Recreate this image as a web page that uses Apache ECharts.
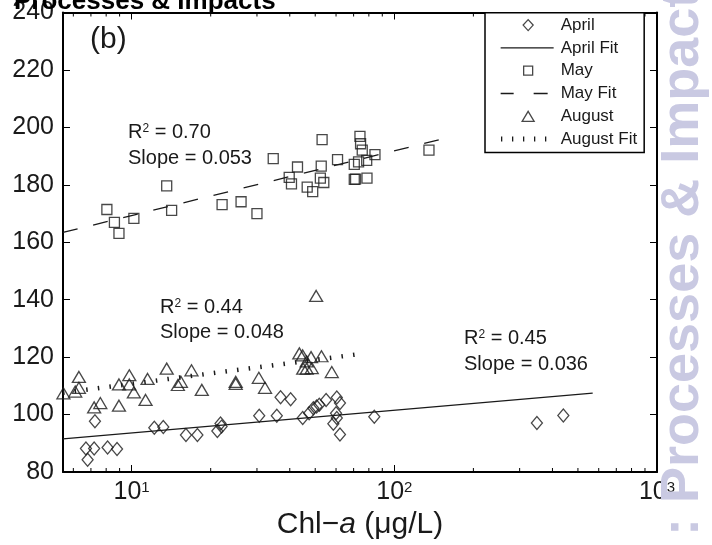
<!DOCTYPE html>
<html>
<head>
<meta charset="utf-8">
<script src="https://cdn.jsdelivr.net/npm/echarts@6/dist/echarts.min.js"></script>
<style>
html, body { margin: 0; padding: 0; background: #fff; }
#chart { width: 712px; height: 545px; }
</style>
</head>
<body>
<div id="chart"></div>
<script>
// Chl-a (ug/L) vs value, three sampling months
var aprilData = [
  [6.7, 88.2], [6.8, 84.3], [7.2, 88.2], [7.25, 97.7], [8.1, 88.5], [8.8, 88],
  [12.2, 95.4], [13.2, 95.7], [16.1, 92.9], [17.8, 92.9], [21.2, 94.3], [21.8, 96.9],
  [22.0, 95.8], [30.6, 99.6], [35.7, 99.6], [36.9, 106], [40.3, 105.3], [44.8, 98.8],
  [47.4, 100.5], [49.2, 102.2], [50.6, 102.8], [51.8, 103.4], [55, 105.1], [60.4, 105.9],
  [62.1, 104], [60, 100.5], [58.6, 96.8], [60.4, 98.8], [62.1, 93.1], [83.9, 99.2],
  [349, 97.1], [440, 99.7]
];
var mayData = [
  [8.05, 171.4], [8.6, 166.9], [8.95, 163.1], [10.2, 168.3], [13.6, 179.6], [14.2, 171.1],
  [22.1, 173.1], [26.1, 174.1], [30.0, 170], [34.6, 189.1], [39.8, 182.6], [40.6, 180.3],
  [42.8, 186.2], [46.6, 179.2], [48.9, 177.6], [52.3, 182.3], [52.7, 186.5], [53.1, 195.7],
  [53.9, 180.8], [60.8, 188.8], [70.4, 187.1], [70.4, 181.9], [71.2, 182], [73.1, 188],
  [74.0, 196.9], [74.4, 194.3], [75.5, 192.1], [78.5, 188.5], [78.7, 182.3], [84.4, 190.5],
  [135.5, 192.1]
];
var augustData = [
  [5.5, 107.4], [6.1, 108], [6.3, 109.3], [6.3, 113.1], [7.2, 102.5], [7.6, 104],
  [8.95, 103.1], [8.95, 110.5], [9.8, 113.7], [9.8, 110.5], [10.2, 107.7], [11.3, 105.1],
  [11.5, 112.4], [13.6, 116], [15.0, 110.3], [15.4, 111.4], [16.9, 115.4], [18.5, 108.6],
  [24.9, 111.4], [24.9, 110.7], [30.5, 112.8], [32.2, 109.3], [43.5, 121.3], [44.8, 120.6],
  [46.4, 118.5], [48.2, 120], [52.8, 120.3], [45, 116], [46.4, 116], [48.5, 116.2],
  [57.8, 114.8], [50.4, 141.3]
];
// fitted lines (end points)
var aprilFit = [[5.48, 91.5], [569, 107.5]];
var mayFit = [[5.48, 163.4], [166, 196.8]];
var augustFit = [[5.48, 107.6], [74, 121.1]];

var seriesNames = ['April', 'April Fit', 'May', 'May Fit', 'August', 'August Fit'];
var r2Labels = ['0.70', '0.44', '0.45'];
var slopeLabels = ['0.053', '0.048', '0.036'];
var minorTicks = [6, 7, 8, 9, 20, 30, 40, 50, 60, 70, 80, 90, 200, 300, 400, 500, 600, 700, 800, 900];

var X_MIN = 5.48, X_MAX = 1000, Y_MIN = 80, Y_MAX = 240;
var FONT = 'Liberation Sans, Arial, Helvetica, sans-serif';
var INK = '#1a1a1a';

// legend icons, drawn in a 55x12 box (the first two moves fix the box)
var BOX = 'path://M0,0M55,12';
var legendIcons = {
  'April': BOX + 'M27.5,0.5L32.5,6L27.5,11.5L22.5,6Z',
  'April Fit': BOX + 'M0,6L53,6',
  'May': BOX + 'M23,1.5L32,1.5L32,10.5L23,10.5Z',
  'May Fit': BOX + 'M0,6L13,6M33,6L47,6',
  'August': BOX + 'M27.5,1L33.5,11L21.5,11Z',
  'August Fit': BOX + 'M1,3.5L1,8.5M12,3.5L12,8.5M23,3.5L23,8.5M34,3.5L34,8.5M45,3.5L45,8.5'
};

var myChart = echarts.init(document.getElementById('chart'), null, { renderer: 'canvas' });

function xAxisOpt(pos, showLabel) {
  return {
    type: 'log', logBase: 10, min: X_MIN, max: X_MAX, position: pos,
    axisLine: { show: true, onZero: false, lineStyle: { color: '#000', width: 2 } },
    axisTick: { show: true, inside: true, length: 7, lineStyle: { color: '#000', width: 1 } },
    splitLine: { show: false },
    axisLabel: {
      show: showLabel, margin: 8, showMinLabel: true, showMaxLabel: true,
      color: INK, fontFamily: FONT, fontSize: 25,
      formatter: function (v) {
        var p = Math.log(v) / Math.LN10;
        if (Math.abs(p - Math.round(p)) > 1e-6) return '';
        return '10{sup|' + Math.round(p) + '}';
      },
      rich: {
        sup: { fontSize: 15, fontFamily: FONT, color: INK, verticalAlign: 'top' }
      }
    }
  };
}

function yAxisOpt(pos, showLabel) {
  return {
    type: 'value', min: Y_MIN, max: Y_MAX, interval: 20, position: pos,
    axisLine: { show: true, onZero: false, lineStyle: { color: '#000', width: 2 } },
    axisTick: { show: true, inside: true, length: 7, lineStyle: { color: '#000', width: 1 } },
    splitLine: { show: false },
    axisLabel: { show: showLabel, margin: 9, color: INK, fontFamily: FONT, fontSize: 25 }
  };
}

var xBottom = xAxisOpt('bottom', true);
xBottom.name = 'Chl\u2212{i|a} (\u03bcg/L)';
xBottom.nameLocation = 'middle';
xBottom.nameGap = 38;
xBottom.nameTextStyle = {
  color: INK, fontFamily: FONT, fontSize: 30,
  rich: { i: { fontStyle: 'italic', fontSize: 30, fontFamily: FONT, color: INK } }
};

function noteText(x, y, str) {
  return {
    type: 'text', x: x, y: y, z: 50,
    style: {
      text: str, fill: INK, font: '20px ' + FONT,
      align: 'left', verticalAlign: 'middle', textAlign: 'left', textVerticalAlign: 'middle',
      rich: { sup: { fontSize: 12, fontFamily: FONT, fill: INK, verticalAlign: 'top' } }
    }
  };
}

var option = {
  animation: false,
  backgroundColor: '#fff',
  grid: { left: 63, top: 4, width: 594, height: 468, containLabel: false },
  xAxis: [xBottom, xAxisOpt('top', false)],
  yAxis: [yAxisOpt('left', true), yAxisOpt('right', false)],
  legend: {
    orient: 'vertical', left: 485, top: 12.7,
    data: seriesNames.map(function (n) { return { name: n, icon: legendIcons[n] }; }),
    itemWidth: 55, itemHeight: 12, itemGap: 0,
    padding: [1, 7, 2, 15],
    borderColor: '#000', borderWidth: 1.5, backgroundColor: '#fff',
    itemStyle: { color: 'transparent', borderColor: INK, borderWidth: 1.3 },
    textStyle: { fontFamily: FONT, fontSize: 17, color: INK, lineHeight: 22.8 },
    selectedMode: false
  },
  series: [
    {
      name: 'April', type: 'scatter', data: aprilData,
      symbol: 'diamond', symbolSize: [11, 13],
      itemStyle: { color: 'transparent', borderColor: INK, borderWidth: 1.3 }
    },
    {
      name: 'April Fit', type: 'line', data: aprilFit, symbol: 'none',
      lineStyle: { color: INK, width: 1.3, type: 'solid' }, itemStyle: { color: INK }
    },
    {
      name: 'May', type: 'scatter', data: mayData,
      symbol: 'rect', symbolSize: 10,
      itemStyle: { color: 'transparent', borderColor: INK, borderWidth: 1.3 }
    },
    {
      name: 'May Fit', type: 'line', data: mayFit, symbol: 'none',
      lineStyle: { color: INK, width: 1.3, type: [15, 16] }, itemStyle: { color: INK }
    },
    {
      name: 'August', type: 'scatter', data: augustData,
      symbol: 'triangle', symbolSize: [13, 11],
      itemStyle: { color: 'transparent', borderColor: INK, borderWidth: 1.3 }
    },
    {
      name: 'August Fit', type: 'line', data: augustFit, symbol: 'none',
      lineStyle: { color: INK, width: 4.5, type: [1.5, 10.2], cap: 'butt' }, itemStyle: { color: INK }
    },
    {
      // minor log ticks on bottom and top frame
      name: 'minorTicks', type: 'custom', silent: true, clip: false,
      data: minorTicks.map(function (v) { return [v, Y_MIN]; }),
      renderItem: function (params, api) {
        var b = api.coord([api.value(0), Y_MIN]);
        var t = api.coord([api.value(0), Y_MAX]);
        return {
          type: 'group',
          children: [
            { type: 'line', shape: { x1: b[0], y1: b[1], x2: b[0], y2: b[1] - 4 }, style: { stroke: '#000', lineWidth: 1 } },
            { type: 'line', shape: { x1: t[0], y1: t[1], x2: t[0], y2: t[1] + 4 }, style: { stroke: '#000', lineWidth: 1 } }
          ]
        };
      }
    }
  ],
  graphic: [
    {
      type: 'text', x: 90, y: 40, z: 50,
      style: { text: '(b)', fill: INK, font: '30px ' + FONT, align: 'left', verticalAlign: 'middle', textAlign: 'left', textVerticalAlign: 'middle' }
    },
    noteText(128, 132.5, 'R{sup|2} = ' + r2Labels[0]),
    noteText(128, 158.3, 'Slope = ' + slopeLabels[0]),
    noteText(160, 307.2, 'R{sup|2} = ' + r2Labels[1]),
    noteText(160, 332.2, 'Slope = ' + slopeLabels[1]),
    noteText(464, 338.9, 'R{sup|2} = ' + r2Labels[2]),
    noteText(464, 364.9, 'Slope = ' + slopeLabels[2]),
    {
      // journal header
      type: 'text', x: 14, y: 2, z: 100,
      style: { text: 'Processes & Impacts', fill: '#000', font: 'bold 26px ' + FONT, align: 'left', verticalAlign: 'middle', textAlign: 'left', textVerticalAlign: 'middle' }
    },
    {
      // side watermark
      type: 'text', x: 683, y: 536, rotation: Math.PI / 2, z: 100,
      style: { text: ': Processes & Impacts', fill: '#c9c9e2', font: 'bold 54px ' + FONT, align: 'left', verticalAlign: 'middle', textAlign: 'left', textVerticalAlign: 'middle' }
    }
  ]
};

myChart.setOption(option);
window.addEventListener('resize', function () { myChart.resize(); });
</script>
</body>
</html>
